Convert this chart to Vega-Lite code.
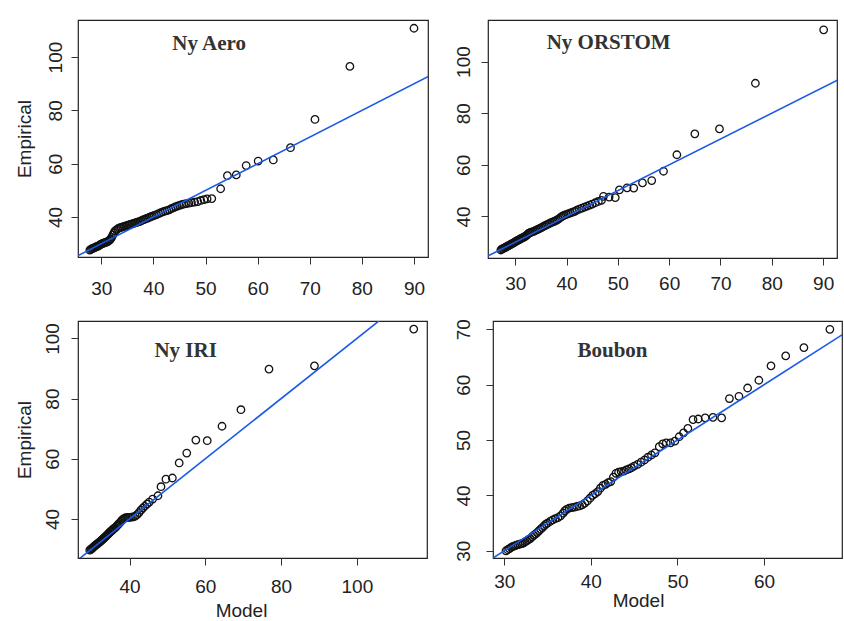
{
  "$schema": "https://vega.github.io/schema/vega-lite/v6.json",
  "background": "white",
  "padding": {"left": 14, "top": 19, "right": 0, "bottom": 0},
  "config": {
    "view": {"stroke": "#222", "strokeWidth": 1.2},
    "axis": {
      "labelFont": "Liberation Sans", "titleFont": "Liberation Sans",
      "labelFontSize": 19, "titleFontSize": 19, "titleFontWeight": "normal",
      "labelColor": "#222", "titleColor": "#222", "tickColor": "#333",
      "tickSize": 7, "domain": false, "grid": false
    },
    "axisX": {"labelPadding": 15, "titlePadding": 2},
    "axisY": {"labelAngle": -90, "labelAlign": "center", "labelBaseline": "alphabetic", "labelPadding": 10, "titlePadding": 12}
  },
  "datasets": {
    "aero": [
      {"m":27.8,"e":27.6},{"m":28.0,"e":27.9},{"m":28.2,"e":28.1},{"m":28.4,"e":28.2},{"m":28.6,"e":28.4},{"m":28.8,"e":28.6},{"m":29.0,"e":28.8},{"m":29.2,"e":29.0},{"m":29.4,"e":29.1},{"m":29.6,"e":29.4},{"m":29.8,"e":29.6},{"m":30.0,"e":29.8},{"m":30.2,"e":30.0},{"m":30.4,"e":30.2},{"m":30.6,"e":30.3},{"m":30.8,"e":30.5},{"m":31.0,"e":30.6},{"m":31.2,"e":30.8},{"m":31.4,"e":31.0},{"m":31.6,"e":31.3},{"m":31.8,"e":31.8},{"m":32.0,"e":32.4},{"m":32.2,"e":33.2},{"m":32.4,"e":34.0},{"m":32.6,"e":34.7},{"m":32.9,"e":35.2},{"m":33.2,"e":35.6},{"m":33.5,"e":35.9},{"m":33.8,"e":36.1},{"m":34.1,"e":36.3},{"m":34.4,"e":36.5},{"m":34.7,"e":36.7},{"m":35.0,"e":36.9},{"m":35.3,"e":37.0},{"m":35.6,"e":37.2},{"m":35.9,"e":37.4},{"m":36.2,"e":37.6},{"m":36.5,"e":37.8},{"m":36.8,"e":38.0},{"m":37.1,"e":38.2},{"m":37.4,"e":38.4},{"m":37.7,"e":38.6},{"m":38.0,"e":38.9},{"m":38.3,"e":39.1},{"m":38.6,"e":39.4},{"m":38.9,"e":39.6},{"m":39.2,"e":39.9},{"m":39.5,"e":40.1},{"m":39.8,"e":40.3},{"m":40.2,"e":40.6},{"m":40.6,"e":40.9},{"m":41.0,"e":41.3},{"m":41.4,"e":41.6},{"m":41.8,"e":41.9},{"m":42.2,"e":42.2},{"m":42.6,"e":42.4},{"m":43.0,"e":42.7},{"m":43.4,"e":43.1},{"m":43.8,"e":43.4},{"m":44.2,"e":43.8},{"m":44.6,"e":44.1},{"m":45.0,"e":44.4},{"m":45.4,"e":44.6},{"m":45.8,"e":44.8},{"m":46.3,"e":45.0},{"m":46.8,"e":45.2},{"m":47.3,"e":45.4},{"m":47.9,"e":45.6},{"m":48.5,"e":45.8},{"m":49.1,"e":46.2},{"m":49.7,"e":46.5},{"m":50.3,"e":46.8},{"m":51.2,"e":46.9},{"m":52.9,"e":50.6},{"m":54.2,"e":55.5},{"m":55.9,"e":55.8},{"m":57.8,"e":59.3},{"m":60.1,"e":61.0},{"m":63.0,"e":61.4},{"m":66.3,"e":66.0},{"m":71.0,"e":76.6},{"m":77.7,"e":96.5},{"m":90.0,"e":110.8}
    ],
    "orstom": [
      {"m":27.2,"e":27.0},{"m":27.4,"e":27.3},{"m":27.6,"e":27.5},{"m":27.8,"e":27.7},{"m":28.0,"e":27.9},{"m":28.2,"e":28.1},{"m":28.4,"e":28.4},{"m":28.6,"e":28.6},{"m":28.8,"e":28.8},{"m":29.0,"e":29.0},{"m":29.2,"e":29.3},{"m":29.4,"e":29.5},{"m":29.6,"e":29.7},{"m":29.8,"e":29.9},{"m":30.0,"e":30.1},{"m":30.2,"e":30.4},{"m":30.4,"e":30.6},{"m":30.6,"e":30.8},{"m":30.8,"e":31.0},{"m":31.0,"e":31.3},{"m":31.2,"e":31.5},{"m":31.4,"e":31.7},{"m":31.6,"e":31.9},{"m":31.8,"e":32.1},{"m":32.0,"e":32.4},{"m":32.2,"e":32.7},{"m":32.4,"e":33.0},{"m":32.6,"e":33.4},{"m":32.8,"e":33.6},{"m":33.0,"e":33.8},{"m":33.3,"e":34.0},{"m":33.6,"e":34.2},{"m":33.9,"e":34.5},{"m":34.2,"e":34.8},{"m":34.5,"e":35.1},{"m":34.8,"e":35.4},{"m":35.1,"e":35.7},{"m":35.4,"e":36.0},{"m":35.7,"e":36.3},{"m":36.0,"e":36.6},{"m":36.3,"e":36.9},{"m":36.6,"e":37.2},{"m":36.9,"e":37.5},{"m":37.2,"e":37.8},{"m":37.5,"e":38.0},{"m":37.8,"e":38.3},{"m":38.1,"e":38.6},{"m":38.4,"e":39.0},{"m":38.7,"e":39.4},{"m":39.0,"e":39.8},{"m":39.3,"e":40.2},{"m":39.6,"e":40.5},{"m":40.0,"e":40.8},{"m":40.4,"e":41.1},{"m":40.8,"e":41.4},{"m":41.2,"e":41.7},{"m":41.6,"e":42.0},{"m":42.0,"e":42.4},{"m":42.5,"e":42.8},{"m":43.0,"e":43.2},{"m":43.5,"e":43.6},{"m":44.0,"e":44.0},{"m":44.5,"e":44.4},{"m":45.0,"e":44.8},{"m":45.6,"e":45.3},{"m":46.2,"e":45.8},{"m":46.8,"e":46.2},{"m":47.2,"e":47.8},{"m":48.3,"e":47.5},{"m":49.5,"e":47.3},{"m":50.3,"e":50.3},{"m":51.8,"e":51.1},{"m":53.1,"e":51.0},{"m":54.8,"e":53.0},{"m":56.6,"e":53.9},{"m":58.9,"e":57.5},{"m":61.5,"e":63.9},{"m":65.0,"e":72.0},{"m":69.8,"e":73.9},{"m":76.8,"e":91.6},{"m":90.1,"e":112.3}
    ],
    "iri": [
      {"m":29.5,"e":29.6},{"m":29.8,"e":29.9},{"m":30.0,"e":30.1},{"m":30.2,"e":30.3},{"m":30.4,"e":30.5},{"m":30.6,"e":30.8},{"m":30.8,"e":31.0},{"m":31.0,"e":31.2},{"m":31.2,"e":31.4},{"m":31.4,"e":31.6},{"m":31.6,"e":31.8},{"m":31.8,"e":32.0},{"m":32.0,"e":32.2},{"m":32.2,"e":32.4},{"m":32.4,"e":32.6},{"m":32.6,"e":32.9},{"m":32.8,"e":33.1},{"m":33.0,"e":33.3},{"m":33.2,"e":33.6},{"m":33.4,"e":33.8},{"m":33.6,"e":34.0},{"m":33.8,"e":34.3},{"m":34.0,"e":34.5},{"m":34.2,"e":34.8},{"m":34.4,"e":35.0},{"m":34.6,"e":35.3},{"m":34.8,"e":35.6},{"m":35.0,"e":35.8},{"m":35.2,"e":36.0},{"m":35.4,"e":36.2},{"m":35.6,"e":36.5},{"m":35.8,"e":36.7},{"m":36.0,"e":36.9},{"m":36.3,"e":37.2},{"m":36.6,"e":37.6},{"m":36.9,"e":38.0},{"m":37.2,"e":38.4},{"m":37.5,"e":38.8},{"m":37.8,"e":39.3},{"m":38.1,"e":39.7},{"m":38.4,"e":40.0},{"m":38.8,"e":40.3},{"m":39.2,"e":40.4},{"m":39.6,"e":40.5},{"m":40.0,"e":40.5},{"m":40.5,"e":40.6},{"m":41.0,"e":40.7},{"m":41.5,"e":40.9},{"m":42.0,"e":41.4},{"m":42.5,"e":42.1},{"m":43.0,"e":42.9},{"m":43.5,"e":43.6},{"m":44.0,"e":44.2},{"m":44.6,"e":44.9},{"m":45.2,"e":45.6},{"m":46.1,"e":46.6},{"m":47.5,"e":47.7},{"m":48.3,"e":50.7},{"m":49.6,"e":53.2},{"m":51.3,"e":53.6},{"m":53.1,"e":58.6},{"m":55.1,"e":61.9},{"m":57.5,"e":66.2},{"m":60.5,"e":66.0},{"m":64.4,"e":70.8},{"m":69.4,"e":76.3},{"m":76.8,"e":89.8},{"m":88.8,"e":90.9},{"m":115.0,"e":103.1}
    ],
    "boubon": [
      {"m":30.2,"e":30.0},{"m":30.4,"e":30.2},{"m":30.6,"e":30.4},{"m":30.8,"e":30.6},{"m":31.0,"e":30.8},{"m":31.2,"e":30.9},{"m":31.4,"e":31.0},{"m":31.6,"e":31.1},{"m":31.8,"e":31.2},{"m":32.0,"e":31.3},{"m":32.2,"e":31.4},{"m":32.4,"e":31.6},{"m":32.6,"e":31.8},{"m":32.8,"e":32.0},{"m":33.0,"e":32.2},{"m":33.2,"e":32.5},{"m":33.4,"e":32.8},{"m":33.6,"e":33.0},{"m":33.8,"e":33.3},{"m":34.0,"e":33.6},{"m":34.2,"e":33.9},{"m":34.4,"e":34.2},{"m":34.6,"e":34.5},{"m":34.8,"e":34.8},{"m":35.0,"e":35.0},{"m":35.3,"e":35.3},{"m":35.6,"e":35.6},{"m":35.9,"e":35.8},{"m":36.2,"e":36.0},{"m":36.5,"e":36.3},{"m":36.8,"e":36.8},{"m":37.0,"e":37.2},{"m":37.2,"e":37.5},{"m":37.5,"e":37.7},{"m":37.8,"e":37.8},{"m":38.1,"e":37.9},{"m":38.4,"e":38.0},{"m":38.7,"e":38.1},{"m":39.0,"e":38.3},{"m":39.3,"e":38.6},{"m":39.6,"e":39.0},{"m":39.9,"e":39.5},{"m":40.2,"e":40.0},{"m":40.5,"e":40.3},{"m":40.8,"e":40.7},{"m":41.1,"e":41.3},{"m":41.4,"e":41.8},{"m":41.7,"e":42.0},{"m":42.0,"e":42.3},{"m":42.3,"e":42.5},{"m":42.6,"e":43.3},{"m":42.9,"e":44.0},{"m":43.2,"e":44.2},{"m":43.5,"e":44.3},{"m":43.8,"e":44.4},{"m":44.1,"e":44.6},{"m":44.4,"e":44.8},{"m":44.7,"e":45.0},{"m":45.0,"e":45.3},{"m":45.4,"e":45.6},{"m":45.8,"e":46.0},{"m":46.2,"e":46.4},{"m":46.6,"e":46.9},{"m":47.0,"e":47.3},{"m":47.4,"e":47.7},{"m":47.9,"e":48.8},{"m":48.3,"e":49.3},{"m":48.7,"e":49.5},{"m":49.2,"e":49.5},{"m":49.7,"e":49.8},{"m":50.2,"e":50.6},{"m":50.7,"e":51.3},{"m":51.2,"e":52.1},{"m":51.8,"e":53.7},{"m":52.4,"e":53.8},{"m":53.2,"e":54.0},{"m":54.1,"e":54.1},{"m":55.1,"e":54.0},{"m":56.0,"e":57.5},{"m":57.1,"e":57.9},{"m":58.1,"e":59.4},{"m":59.4,"e":60.8},{"m":60.8,"e":63.4},{"m":62.5,"e":65.2},{"m":64.6,"e":66.7},{"m":67.6,"e":70.0}
    ]
  },
  "vconcat": [
    {
      "hconcat": [
        {
          "width": 350, "height": 237,
          "layer": [
            {
              "data": {"name": "aero"},
              "mark": {"type": "point", "shape": "circle", "filled": false, "color": "#111", "size": 56, "strokeWidth": 1.3, "opacity": 1},
              "encoding": {
                "x": {"field": "m", "type": "quantitative", "scale": {"domain": [25.53, 92.69], "nice": false, "zero": false}, "axis": {"values": [30, 40, 50, 60, 70, 80, 90], "title": null, "labelPadding": 15}},
                "y": {"field": "e", "type": "quantitative", "scale": {"domain": [25.0, 113.9], "nice": false, "zero": false}, "axis": {"values": [40, 60, 80, 100], "title": "Empirical", "labelPadding": 10, "titlePadding": 12}}
              }
            },
            {
              "data": {"values": [{}]},
              "mark": {"type": "rule", "clip": true, "color": "#1a5ae6", "strokeWidth": 1.6},
              "encoding": {"x": {"datum": 20}, "y": {"datum": 20}, "x2": {"datum": 130}, "y2": {"datum": 130}}
            },
            {
              "data": {"values": [{}]},
              "mark": {"type": "text", "text": "Ny Aero", "font": "Liberation Serif", "fontWeight": "bold", "fontSize": 21, "color": "#333", "align": "center", "baseline": "middle"},
              "encoding": {"x": {"datum": 50.7}, "y": {"datum": 104.9}}
            }
          ]
        },
        {
          "width": 349, "height": 238,
          "layer": [
            {
              "data": {"name": "orstom"},
              "mark": {"type": "point", "shape": "circle", "filled": false, "color": "#111", "size": 56, "strokeWidth": 1.3, "opacity": 1},
              "encoding": {
                "x": {"field": "m", "type": "quantitative", "scale": {"domain": [24.7, 92.7], "nice": false, "zero": false}, "axis": {"values": [30, 40, 50, 60, 70, 80, 90], "title": null, "labelPadding": 9}},
                "y": {"field": "e", "type": "quantitative", "scale": {"domain": [23.9, 116.1], "nice": false, "zero": false}, "axis": {"values": [40, 60, 80, 100], "title": null, "labelPadding": 12}}
              }
            },
            {
              "data": {"values": [{}]},
              "mark": {"type": "rule", "clip": true, "color": "#1a5ae6", "strokeWidth": 1.6},
              "encoding": {"x": {"datum": 20}, "y": {"datum": 20}, "x2": {"datum": 130}, "y2": {"datum": 130}}
            },
            {
              "data": {"values": [{}]},
              "mark": {"type": "text", "text": "Ny ORSTOM", "font": "Liberation Serif", "fontWeight": "bold", "fontSize": 21, "color": "#333", "align": "center", "baseline": "middle"},
              "encoding": {"x": {"datum": 48.2}, "y": {"datum": 107.0}}
            }
          ]
        }
      ],
      "spacing": 24
    },
    {
      "hconcat": [
        {
          "width": 349, "height": 237,
          "layer": [
            {
              "data": {"name": "iri"},
              "mark": {"type": "point", "shape": "circle", "filled": false, "color": "#111", "size": 56, "strokeWidth": 1.3, "opacity": 1},
              "encoding": {
                "x": {"field": "m", "type": "quantitative", "scale": {"domain": [26.4, 118.5], "nice": false, "zero": false}, "axis": {"values": [40, 60, 80, 100], "title": "Model", "labelPadding": 12, "titlePadding": 5, "titleX": 163, "titleAlign": "center"}},
                "y": {"field": "e", "type": "quantitative", "scale": {"domain": [27.0, 105.8], "nice": false, "zero": false}, "axis": {"values": [40, 60, 80, 100], "title": "Empirical", "labelPadding": 13, "titlePadding": 9}}
              }
            },
            {
              "data": {"values": [{}]},
              "mark": {"type": "rule", "clip": true, "color": "#1a5ae6", "strokeWidth": 1.6},
              "encoding": {"x": {"datum": 20}, "y": {"datum": 20}, "x2": {"datum": 130}, "y2": {"datum": 130}}
            },
            {
              "data": {"values": [{}]},
              "mark": {"type": "text", "text": "Ny IRI", "font": "Liberation Serif", "fontWeight": "bold", "fontSize": 21, "color": "#333", "align": "center", "baseline": "middle"},
              "encoding": {"x": {"datum": 54.8}, "y": {"datum": 95.9}}
            }
          ]
        },
        {
          "width": 349, "height": 237,
          "layer": [
            {
              "data": {"name": "boubon"},
              "mark": {"type": "point", "shape": "circle", "filled": false, "color": "#111", "size": 56, "strokeWidth": 1.3, "opacity": 1},
              "encoding": {
                "x": {"field": "m", "type": "quantitative", "scale": {"domain": [28.7, 69.0], "nice": false, "zero": false}, "axis": {"values": [30, 40, 50, 60], "title": "Model", "labelPadding": 7, "titlePadding": 0, "titleX": 145, "titleAlign": "center"}},
                "y": {"field": "e", "type": "quantitative", "scale": {"domain": [28.7, 71.5], "nice": false, "zero": false}, "axis": {"values": [30, 40, 50, 60, 70], "title": null, "labelPadding": 17}}
              }
            },
            {
              "data": {"values": [{}]},
              "mark": {"type": "rule", "clip": true, "color": "#1a5ae6", "strokeWidth": 1.6},
              "encoding": {"x": {"datum": 20}, "y": {"datum": 20}, "x2": {"datum": 130}, "y2": {"datum": 130}}
            },
            {
              "data": {"values": [{}]},
              "mark": {"type": "text", "text": "Boubon", "font": "Liberation Serif", "fontWeight": "bold", "fontSize": 21, "color": "#333", "align": "center", "baseline": "middle"},
              "encoding": {"x": {"datum": 42.5}, "y": {"datum": 66.0}}
            }
          ]
        }
      ],
      "spacing": 25
    }
  ],
  "spacing": 19
}
